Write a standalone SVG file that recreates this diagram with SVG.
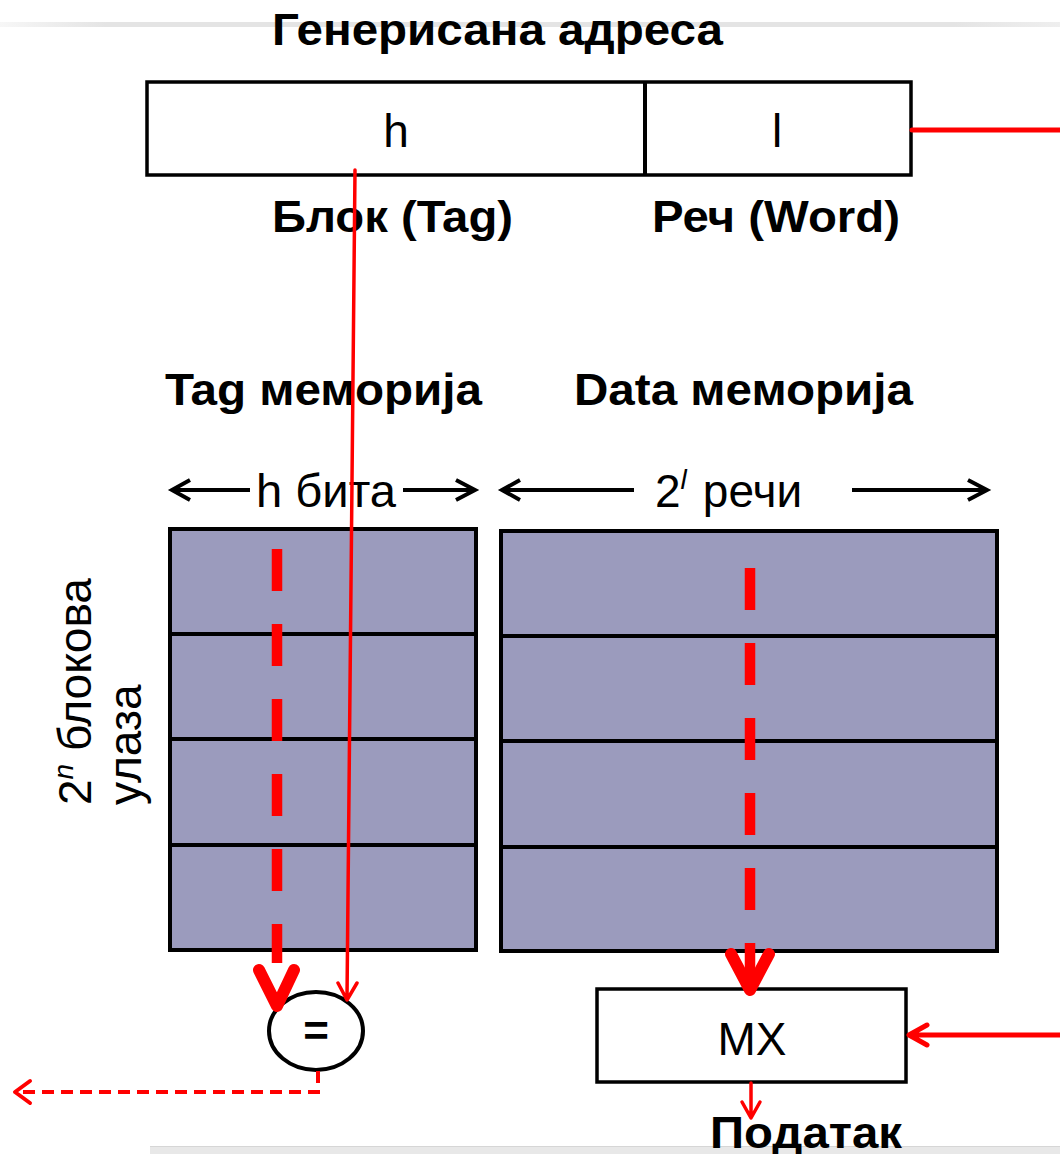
<svg xmlns="http://www.w3.org/2000/svg" width="1060" height="1154" viewBox="0 0 1060 1154">
<defs>
<linearGradient id="topline" x1="0" y1="0" x2="1" y2="0">
<stop offset="0" stop-color="#e4e4e4" stop-opacity="0.3"/>
<stop offset="0.1" stop-color="#e4e4e4"/>
<stop offset="0.9" stop-color="#e4e4e4"/>
<stop offset="1" stop-color="#e4e4e4" stop-opacity="0.6"/>
</linearGradient>
<style>
.b{font-family:"Liberation Sans",Arial,sans-serif;font-weight:bold;font-size:44px;fill:#000}
.r{font-family:"Liberation Sans",Arial,sans-serif;font-size:46px;fill:#000}
.box{fill:#fff;stroke:#000;stroke-width:3.5}
.mem{fill:#9b9bbd;stroke:#000;stroke-width:4}
.div{stroke:#000;stroke-width:4}
.blk{fill:none;stroke:#000;stroke-width:4}
.red{fill:none;stroke:#f00;stroke-linecap:round;stroke-linejoin:round}
.dash{fill:none;stroke:#f00;stroke-width:10.5;stroke-dasharray:42 33}
</style>
</defs>
<rect x="0" y="22" width="1060" height="5" fill="url(#topline)"/>
<rect x="150" y="1146" width="910" height="8" fill="#e8e8e8"/>
<line x1="150" y1="1146.5" x2="1060" y2="1146.5" stroke="#d6d6d6" stroke-width="1"/>

<g id="title"><text class="b" x="272" y="45" textLength="451" lengthAdjust="spacingAndGlyphs">Генерисана адреса</text></g>

<g id="address">
<rect class="box" x="147" y="82" width="764" height="93"/>
<line class="div" x1="645" y1="82" x2="645" y2="175"/>
<text class="r" x="396" y="147" text-anchor="middle">h</text>
<text class="r" x="777" y="147" text-anchor="middle">l</text>
</g>
<g id="labels">
<text class="b" x="272" y="232" textLength="241" lengthAdjust="spacingAndGlyphs">Блок (Tag)</text>
<text class="b" x="652" y="232" textLength="248" lengthAdjust="spacingAndGlyphs">Реч (Word)</text>
<text class="b" x="165" y="405" textLength="317" lengthAdjust="spacingAndGlyphs">Tag меморија</text>
<text class="b" x="574" y="405" textLength="339" lengthAdjust="spacingAndGlyphs">Data меморија</text>
</g>

<g id="width-labels">
<path class="blk" d="M250 490 H173 M190 480 L172 490 L190 500"/>
<text class="r" x="256" y="507" textLength="140" lengthAdjust="spacingAndGlyphs">h бита</text>
<path class="blk" d="M403 490 H474 M456 480 L475 490 L456 500"/>
<path class="blk" d="M634 490 H503 M520 480 L502 490 L520 500"/>
<text class="r" x="655" y="507">2<tspan font-size="28" font-style="italic" dy="-18">l</tspan><tspan dy="18" dx="16">речи</tspan></text>
<path class="blk" d="M852 490 H985 M968 480 L987 490 L968 500"/>
</g>

<g id="rows-label">
<text class="r" transform="translate(91 805) rotate(-90)">2<tspan font-size="28" font-style="italic" dy="-18">n</tspan><tspan dy="18"> блокова</tspan></text>
<text class="r" transform="translate(141 805) rotate(-90)">улаза</text>
</g>

<g id="tag-memory">
<rect class="mem" x="170" y="529" width="306" height="421"/>
<line class="div" x1="170" y1="634" x2="476" y2="634"/>
<line class="div" x1="170" y1="739" x2="476" y2="739"/>
<line class="div" x1="170" y1="845" x2="476" y2="845"/>
</g>

<g id="data-memory">
<rect class="mem" x="501" y="531" width="496" height="420"/>
<line class="div" x1="501" y1="636" x2="997" y2="636"/>
<line class="div" x1="501" y1="741" x2="997" y2="741"/>
<line class="div" x1="501" y1="847" x2="997" y2="847"/>
</g>

<g id="comparator">
<ellipse cx="316" cy="1031" rx="47" ry="39" fill="#fff" stroke="#000" stroke-width="4"/>
<text class="b" x="316" y="1046" text-anchor="middle" font-size="40">=</text>
</g>

<g id="mx">
<rect class="box" x="597" y="989" width="309" height="93"/>
<text class="r" x="752" y="1055" text-anchor="middle" font-size="44">MX</text>
</g>

<g id="output"><text class="b" x="710" y="1148" textLength="192" lengthAdjust="spacingAndGlyphs">Податак</text></g>

<g id="connectors">
<line class="red" x1="912" y1="130" x2="1060" y2="130" stroke-width="5"/>
<path class="red" stroke-width="3.5" d="M355 170 L347 999 M338 983 L347 1000 L357 983"/>
<line class="dash" x1="277" y1="549" x2="277" y2="963"/>
<path class="red" stroke-width="12" d="M259 970 L277 1006 L294 970"/>
<line class="dash" x1="750" y1="568" x2="750" y2="985"/>
<path class="red" stroke-width="12" d="M731 954 L750 990 L769 954"/>
<path fill="none" stroke="#f00" stroke-width="4" stroke-dasharray="12 7" d="M318 1071 V1092 H18"/>
<path class="red" stroke-width="4" d="M30 1081 L15 1092 L30 1103"/>
<path class="red" stroke-width="5" d="M1060 1035 H910 M927 1025 L909 1035 L927 1045"/>
<path class="red" stroke-width="3.5" d="M751 1083 V1117 M742 1102 L751 1118 L760 1102"/>
</g>
</svg>
